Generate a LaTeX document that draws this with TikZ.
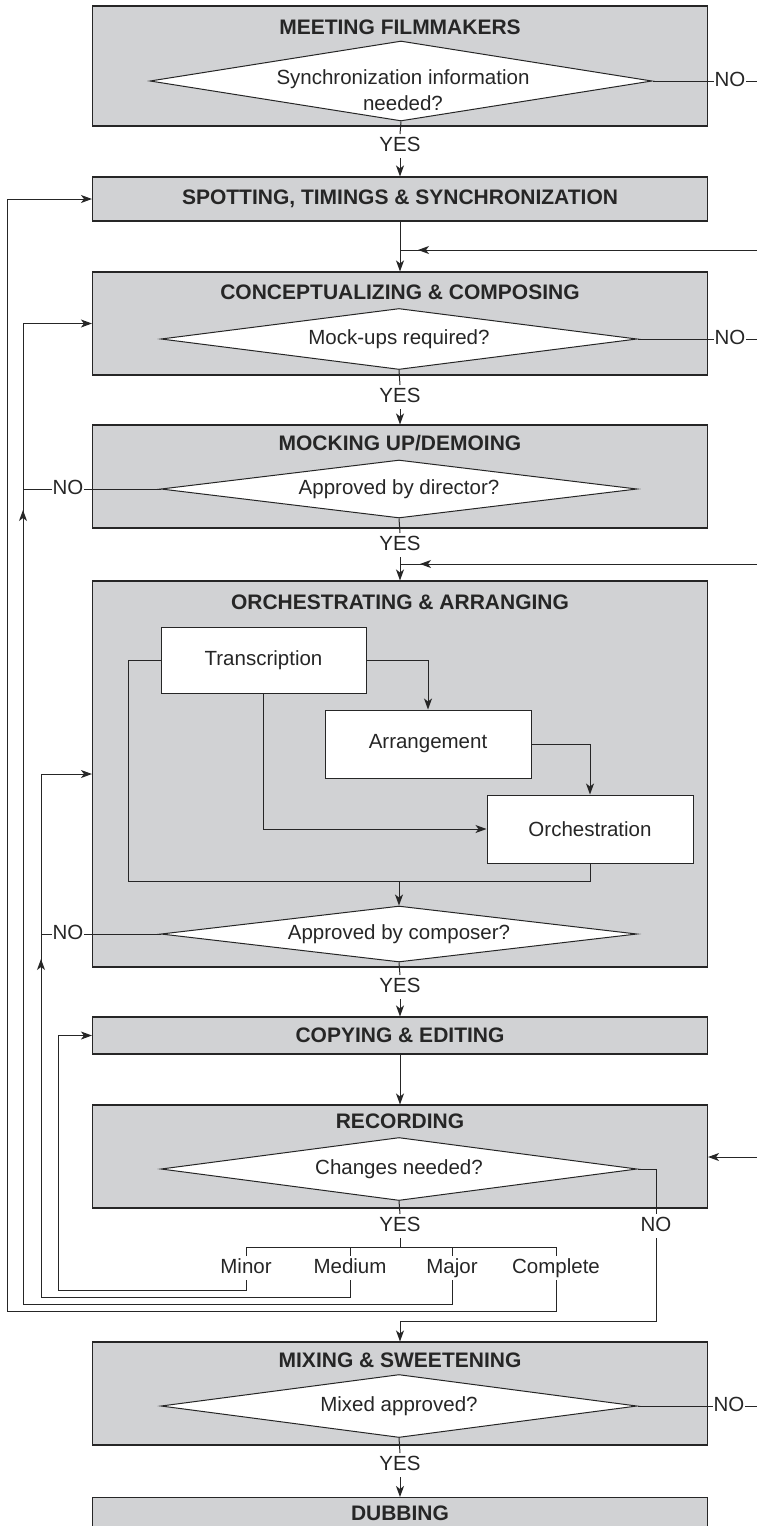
\documentclass[tikz,border=0pt]{standalone}
\usepackage{fontspec}
\setmainfont{Liberation Sans}
\usepackage{tikz}
\usetikzlibrary{shapes.geometric, arrows.meta, calc}

\definecolor{stagegray}{HTML}{D1D2D4}
\definecolor{inkgray}{HTML}{262626}

\begin{document}
\begin{tikzpicture}[x=1pt, y={(0pt,-1pt)}, color=inkgray, line width=1pt,
        every node/.style={font=\fontsize{20.5}{24}\selectfont, text=inkgray},
        stage/.style={draw=inkgray, fill=stagegray, line width=1.1pt, minimum width=615pt, inner sep=0pt},
        heading/.style={font=\fontsize{21}{24}\selectfont\bfseries},
        task/.style={draw=inkgray, fill=white, line width=1pt, minimum width=206pt, minimum height=68pt},
        decision/.style={diamond, draw=inkgray, fill=white, line width=1pt, inner sep=0pt, minimum width=476pt, minimum height=61pt},
        answer/.style={inner xsep=0.5pt, inner ysep=2pt, text height=15pt, text depth=4pt},
        flow/.style={-{Stealth[length=11pt, width=8pt, inset=3pt]}}]

    \useasboundingbox (0,0) rectangle (757,1526);
    \clip (0,0) rectangle (757,1526);

    \node[stage, minimum height=120pt] (meet) at (400,66) {};
    \node[heading] (meetttl) at (400,27) {MEETING FILMMAKERS};
    \node[decision, minimum width=502pt, minimum height=80pt] (syncq) at (401,81) {};
    \node[align=center, font=\fontsize{20.5}{26}\selectfont] (synctxt) at (403,90) {Synchronization information\\needed?};

    \node[stage, heading, minimum height=44pt] (spot) at (400,199) {SPOTTING, TIMINGS \& SYNCHRONIZATION};

    \node[stage, minimum height=103pt] (comp) at (400,323.5) {};
    \node[heading] (compttl) at (400,292) {CONCEPTUALIZING \& COMPOSING};
    \node[decision] (mockq) at (399,339) {};
    \node (mocktxt) at (mockq) {Mock-ups required?};

    \node[stage, minimum height=103pt] (demo) at (400,476.5) {};
    \node[heading] (demottl) at (400,443) {MOCKING UP/DEMOING};
    \node[decision, minimum height=58pt] (dirq) at (399,489) {};
    \node (dirtxt) at (dirq) {Approved by director?};

    \node[stage, minimum height=386pt] (orch) at (400,774) {};
    \node[heading] (orchttl) at (400,602) {ORCHESTRATING \& ARRANGING};
    \node[task, minimum width=205pt, minimum height=66pt] (trans) at (263.5,660) {Transcription};
    \node[task] (arr) at (428,744) {Arrangement};
    \node[task] (orchn) at (590,829) {Orchestration};
    \node[decision, minimum height=56pt] (compq) at (399,934) {};
    \node (comptxt) at (compq) {Approved by composer?};

    \node[stage, heading, minimum height=37pt] (copy) at (400,1035.5) {COPYING \& EDITING};

    \node[stage, minimum height=103pt] (rec) at (400,1156.5) {};
    \node[heading] (recttl) at (400,1121) {RECORDING};
    \node[decision, minimum height=63pt] (chgq) at (399,1169) {};
    \node (chgtxt) at (chgq) {Changes needed?};

    \node[stage, minimum height=103pt] (mix) at (400,1393.5) {};
    \node[heading] (mixttl) at (400,1360) {MIXING \& SWEETENING};
    \node[decision, minimum height=63pt] (mixq) at (399,1406) {};
    \node (mixtxt) at (mixq) {Mixed approved?};

    \node[stage, anchor=north, minimum height=60pt] (dub) at (400,1497) {};
    \node[heading] (dubttl) at (400,1513) {DUBBING};

    \node[answer] (yes1) at (400,146) {YES};
    \node[answer] (yes2) at (400,397) {YES};
    \node[answer] (yes3) at (400,545) {YES};
    \node[answer] (yes4) at (400,987) {YES};
    \node[answer] (yes5) at (400,1226) {YES};
    \node[answer] (yes6) at (400,1465) {YES};
    \node[answer] (no1) at (730,81) {NO};
    \node[answer] (no2) at (730,339) {NO};
    \node[answer] (no3) at (68,489) {NO};
    \node[answer] (no4) at (68,934) {NO};
    \node[answer] (no5) at (656,1226) {NO};
    \node[answer] (no6) at (729,1406) {NO};

    \node[answer] (minor) at (246,1268) {Minor};
    \node[answer] (medium) at (350,1268) {Medium};
    \node[answer] (major) at (452,1268) {Major};
    \node[answer] (complete) at (556,1268) {Complete};

    \coordinate (out1) at (757,81);
    \coordinate (out2) at (757,339);
    \coordinate (out6) at (757,1406);
    \coordinate (in1) at (757,250);
    \coordinate (in2) at (757,564);
    \coordinate (in3) at (757,1157);
    \coordinate (join1) at (400,250);
    \coordinate (join2) at (400,564);
    \coordinate (lpminor) at (58,1290);
    \coordinate (lpmedium) at (41,1297);
    \coordinate (lpmajor) at (23,1304);
    \coordinate (lpcomplete) at (7,1311);
    \coordinate (upmajor) at (23,510);
    \coordinate (upmedium) at (41,959);
    \coordinate (lpinner) at (128,881);
    \coordinate (nojoin) at (400,1321);
    \coordinate (branch) at (400,1247);

    \draw (syncq.south) -- (yes1.north);
    \draw[flow] (yes1.south) -- (spot.north);
    \draw (syncq.east) -- (no1.west);
    \draw (no1.east) -- (out1);

    \draw[flow] (spot.south) -- (comp.north);
    \draw (in1) -- (join1);
    \draw[flow, shorten >=18pt] (in1) -- (join1);

    \draw (mockq.east) -- (no2.west);
    \draw (no2.east) -- (out2);
    \draw (mockq.south) -- (yes2.north);
    \draw[flow] (yes2.south) -- (demo.north);

    \draw (dirq.west) -- (no3.east);
    \draw (no3.west) -- (no3.west -| lpmajor);
    \draw[flow] ($(upmajor)+(0,20)$) -- (upmajor);
    \draw (dirq.south) -- (yes3.north);
    \draw[flow] (yes3.south) -- (orch.north);
    \draw (in2) -- (join2);
    \draw[flow, shorten >=20pt] (in2) -- (join2);

    \draw[flow] (trans.east) -| (arr.north);
    \draw[flow] (arr.east) -| (orchn.north);
    \draw[flow] (trans.south) |- (orchn.west);
    \draw (orchn.south) |- (lpinner) |- (trans.west);
    \draw[flow] (lpinner -| compq.north) -- (compq.north);

    \draw (compq.west) -- (no4.east);
    \draw (no4.west) -- (no4.west -| lpmedium);
    \draw[flow] ($(upmedium)+(0,20)$) -- (upmedium);
    \draw (compq.south) -- (yes4.north);
    \draw[flow] (yes4.south) -- (copy.north);

    \draw[flow] (copy.south) -- (rec.north);
    \draw[flow] (in3) -- (in3 -| rec.east);
    \draw (chgq.east) -| (no5.north);
    \draw[flow] (no5.south) |- (nojoin) -- (mix.north);
    \draw (chgq.south) -- (yes5.north);
    \draw (yes5.south) -- (branch);
    \draw (minor.north) |- (branch) -| (complete.north);
    \draw (medium.north) -- (medium.north |- branch);
    \draw (major.north) -- (major.north |- branch);

    \draw[flow] (minor.south) |- (lpminor) |- (copy.west);
    \draw[flow] (medium.south) |- (lpmedium) |- (orch.west);
    \draw[flow] (major.south) |- (lpmajor) |- (comp.west);
    \draw[flow] (complete.south) |- (lpcomplete) |- (spot.west);

    \draw (mixq.east) -- (no6.west);
    \draw (no6.east) -- (out6);
    \draw (mixq.south) -- (yes6.north);
    \draw[flow] (yes6.south) -- (dub.north);
\end{tikzpicture}
\end{document}
